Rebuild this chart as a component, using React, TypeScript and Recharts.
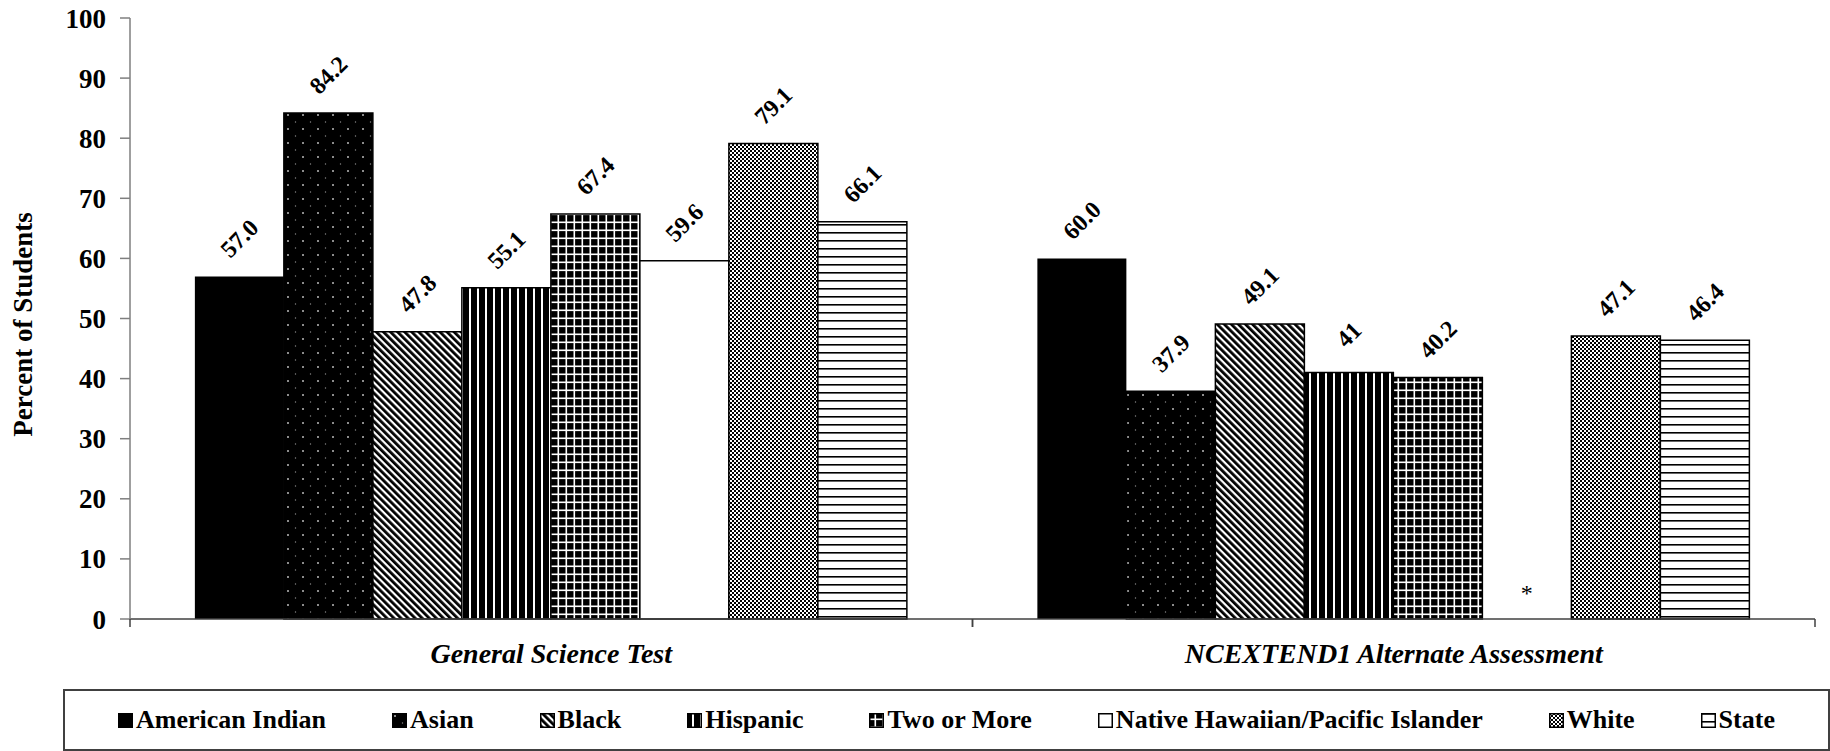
import React from 'react'
import { BarChart, Bar, XAxis, YAxis, Legend, LabelList, Rectangle } from 'recharts'

// values as printed on the chart ('*' = suppressed, drawn with no bar)
const tests = ['General Science Test', 'NCEXTEND1 Alternate Assessment']
const americanIndian = ['57.0', '60.0']
const asian = ['84.2', '37.9']
const black = ['47.8', '49.1']
const hispanic = ['55.1', '41']
const twoOrMore = ['67.4', '40.2']
const nativeHawaiian = ['59.6', '*']
const white = ['79.1', '47.1']
const state = ['66.1', '46.4']
const yTicks = [0, 10, 20, 30, 40, 50, 60, 70, 80, 90, 100]

const series = [
  { key: 'americanIndian', name: 'American Indian', values: americanIndian, fill: '#000' },
  { key: 'asian', name: 'Asian', values: asian, fill: 'url(#patAsian)' },
  { key: 'black', name: 'Black', values: black, fill: 'url(#patBlack)' },
  { key: 'hispanic', name: 'Hispanic', values: hispanic, fill: 'url(#patHispanic)' },
  { key: 'twoOrMore', name: 'Two or More', values: twoOrMore, fill: 'url(#patTwo)' },
  { key: 'nativeHawaiian', name: 'Native Hawaiian/Pacific Islander', values: nativeHawaiian, fill: '#fff' },
  { key: 'white', name: 'White', values: white, fill: 'url(#patWhite)' },
  { key: 'state', name: 'State', values: state, fill: 'url(#patState)' },
]

// a suppressed value gets a zero-height bar so its '*' still has a slot
const data = tests.map((test, i) => {
  const row: any = { test }
  series.forEach((s) => {
    const v = parseFloat(s.values[i])
    row[s.key] = isNaN(v) ? 0 : v
    row[s.key + 'Label'] = s.values[i]
  })
  return row
})

const FONT = 'Liberation Serif, Tinos, Times New Roman, DejaVu Serif, serif'

const BarLabel = (props: any) => {
  const { x, y, width, value } = props
  if (!Number.isFinite(x) || value === '*') return null
  const cx = x + width / 2
  const cy = y - 38
  return (
    <text
      x={cx}
      y={cy}
      transform={`rotate(-45 ${cx} ${cy})`}
      textAnchor="middle"
      dominantBaseline="central"
      fontFamily={FONT}
      fontWeight={700}
      fontSize={24}
      fill="#000"
    >
      {value}
    </text>
  )
}

// bar shape: normal rectangle, or a '*' marker where the value is suppressed
const makeShape = (key: string) => (props: any) => {
  const { x, y, width, payload } = props
  if (payload && payload[key + 'Label'] === '*') {
    return (
      <text x={x + width / 2} y={y - 26} textAnchor="middle" dominantBaseline="central" fontFamily={FONT} fontSize={24} fill="#000">
        *
      </text>
    )
  }
  return <Rectangle {...props} />
}

const CategoryTick = (props: any) => {
  const { x, y, payload } = props
  const half = payload.offset || 421
  return (
    <g>
      <line x1={x - half} y1={y - 8} x2={x - half} y2={y} stroke="#404040" strokeWidth={1.5} />
      <line x1={x + half} y1={y - 8} x2={x + half} y2={y} stroke="#404040" strokeWidth={1.5} />
      <text x={x} y={y + 36} textAnchor="middle" fontFamily={FONT} fontWeight={700} fontStyle="italic" fontSize={28} fill="#000">
        {payload.value}
      </text>
    </g>
  )
}

const YTitle = (props: any) => {
  const vb = props.viewBox || { x: 0, y: 18, height: 602 }
  const cx = 23
  const cy = vb.y + vb.height / 2 + 6
  return (
    <text
      x={cx}
      y={cy}
      transform={`rotate(-90 ${cx} ${cy})`}
      textAnchor="middle"
      dominantBaseline="central"
      fontFamily={FONT}
      fontWeight={700}
      fontSize={27}
      fill="#000"
    >
      Percent of Students
    </text>
  )
}

const LegendBox = () => (
  <div
    style={{
      boxSizing: 'border-box',
      width: '100%',
      height: '100%',
      border: '2px solid #404040',
      display: 'flex',
      alignItems: 'center',
      justifyContent: 'center',
      gap: 66,
      fontFamily: FONT,
      fontWeight: 700,
      fontSize: 26,
      color: '#000',
    }}
  >
    {series.map((s) => (
      <div key={s.key} style={{ display: 'flex', alignItems: 'center', gap: 3, whiteSpace: 'nowrap' }}>
        <svg width={15} height={15} style={{ display: 'block' }}>
          <rect x={0.75} y={0.75} width={13.5} height={13.5} fill={s.fill} stroke="#000" strokeWidth={1.5} />
        </svg>
        <span>{s.name}</span>
      </div>
    ))}
  </div>
)

export default function App() {
  return (
    <div style={{ position: 'absolute', left: 0, top: 0, width: 1830, height: 751, background: '#fff' }}>
      <BarChart
        width={1830}
        height={751}
        data={data}
        margin={{ top: 18, right: 15, left: 0, bottom: 10 }}
        barCategoryGap="7.7%"
        barGap={0}
      >
        <defs>
          <pattern id="patAsian" width={15} height={14} patternUnits="userSpaceOnUse">
            <rect width={15} height={14} fill="#000" />
            <circle cx={3} cy={3} r={1} fill="#bbb" />
            <circle cx={10.5} cy={10} r={0.7} fill="#888" />
          </pattern>
          <pattern id="patBlack" width={5} height={5} patternUnits="userSpaceOnUse" patternTransform="rotate(-45)">
            <rect width={5} height={5} fill="#fff" />
            <rect width={2.8} height={5} fill="#000" />
          </pattern>
          <pattern id="patHispanic" width={8} height={8} patternUnits="userSpaceOnUse">
            <rect width={8} height={8} fill="#000" />
            <rect x={5} width={2} height={8} fill="#fff" />
          </pattern>
          <pattern id="patTwo" width={8} height={8} patternUnits="userSpaceOnUse">
            <rect width={8} height={8} fill="#000" />
            <rect x={5.5} width={1.6} height={8} fill="#fff" />
            <rect y={5.5} width={8} height={1.6} fill="#fff" />
          </pattern>
          <pattern id="patWhite" width={4} height={4} patternUnits="userSpaceOnUse">
            <rect width={4} height={4} fill="#fff" />
            <rect width={2} height={2} fill="#000" />
            <rect x={2} y={2} width={2} height={2} fill="#000" />
          </pattern>
          <pattern id="patState" width={8} height={8} patternUnits="userSpaceOnUse">
            <rect width={8} height={8} fill="#fff" />
            <rect width={8} height={1.6} fill="#000" />
          </pattern>
        </defs>
        <XAxis
          dataKey="test"
          height={60}
          tickLine={false}
          tickSize={8}
          tickMargin={0}
          axisLine={{ stroke: '#404040', strokeWidth: 1.5 }}
          tick={<CategoryTick />}
          interval={0}
        />
        <YAxis
          domain={[0, 100]}
          ticks={yTicks}
          width={130}
          tickSize={10}
          tickMargin={14}
          axisLine={{ stroke: '#7f7f7f', strokeWidth: 1.5 }}
          tickLine={{ stroke: '#7f7f7f', strokeWidth: 1.5 }}
          tick={{ fill: '#000', fontSize: 27, fontWeight: 700, fontFamily: FONT }}
          label={<YTitle />}
        />
        <Legend
          verticalAlign="bottom"
          content={<LegendBox />}
          wrapperStyle={{ left: 63, top: 689, width: 1767, height: 62 }}
        />
        {series.map((s) => (
          <Bar
            key={s.key}
            dataKey={s.key}
            name={s.name}
            fill={s.fill}
            stroke="#000"
            strokeWidth={s.key === 'americanIndian' ? 0 : 1.5}
            shape={makeShape(s.key)}
            isAnimationActive={false}
          >
            <LabelList dataKey={s.key + 'Label'} content={<BarLabel />} />
          </Bar>
        ))}
      </BarChart>
    </div>
  )
}
